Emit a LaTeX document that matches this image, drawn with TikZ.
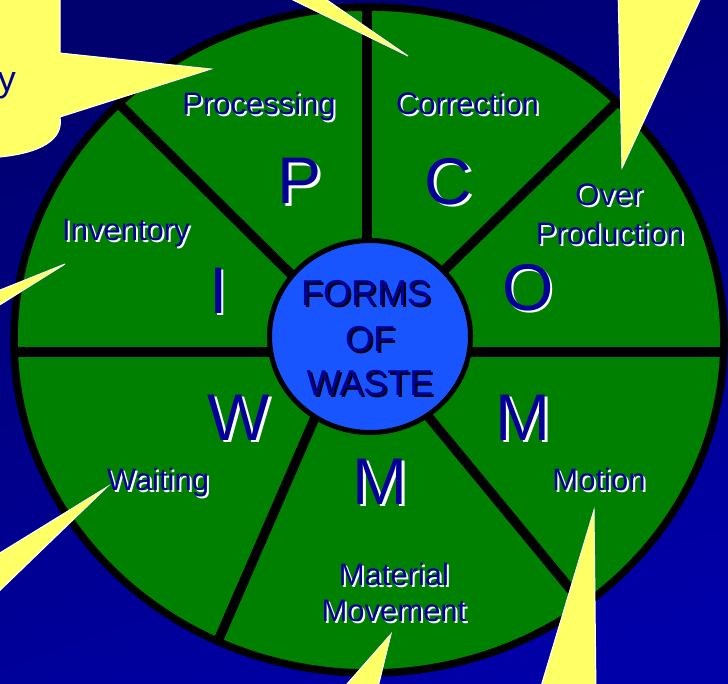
\documentclass[tikz,border=0pt]{standalone}
\usepackage{fontspec}
\setmainfont{Liberation Sans}
\usetikzlibrary{shapes.geometric}
\definecolor{bgdark}{RGB}{0,0,110}
\definecolor{bglight}{RGB}{0,0,168}
\definecolor{wheelgreen}{RGB}{0,128,0}
\definecolor{hubblue}{RGB}{25,85,255}
\definecolor{txtblue}{RGB}{0,0,153}
\definecolor{callout}{RGB}{255,255,102}
\tikzset{
  lbl/.style={font=\fontsize{31}{34}\selectfont, text=txtblue, inner sep=0pt, anchor=base},
  lblshadow/.style={lbl, text=white},
  big/.style={font=\fontsize{66}{70}\selectfont, text=txtblue, inner sep=0pt, anchor=base},
  bigshadow/.style={big, text=white},
  hubtxt/.style={font=\fontsize{36}{40}\selectfont, text=txtblue, inner sep=0pt, anchor=base},
  hubtxtshadow/.style={hubtxt, text=black},
  spoke/.style={line width=9.5pt, draw=black},
  ray/.style={fill=callout, draw=white, line width=1pt, line join=miter},
}
\newcommand{\shadowed}[6]{%
  \node[#1shadow] (#2s) at (#3+#6,#4+#6) {#5};
  \node[#1] (#2) at (#3,#4) {#5};}
\begin{document}
\begin{tikzpicture}[x=1pt,y=-1pt]
\useasboundingbox (0,0) rectangle (728,683);
\begin{scope}
\clip (0,0) rectangle (728,683);
\shade[shading=axis, top color=bgdark, bottom color=bglight, shading angle=20] (-20,-20) rectangle (748,703);
% wheel
\fill[wheelgreen] (369,340) ellipse [x radius=355, y radius=333];
% spokes
\coordinate (ulo) at (118,103);  \coordinate (uli) at (305,288);
\coordinate (uro) at (616,103);  \coordinate (uri) at (435,279);
\coordinate (llo) at (218,641);  \coordinate (lli) at (320,406);
\coordinate (lro) at (586,608);  \coordinate (lri) at (418,404);
\coordinate (to)  at (367,6);    \coordinate (ti)  at (367,300);
\coordinate (lo)  at (14,352);   \coordinate (ro)  at (724,352);
\draw[spoke] (ulo) -- (uli);
\draw[spoke] (uro) -- (uri);
\draw[spoke] (llo) -- (lli);
\draw[spoke] (lro) -- (lri);
\draw[spoke] (to) -- (ti);
\draw[spoke] (lo) -- (ro);
\draw[line width=7.5pt] (369,340) ellipse [x radius=355, y radius=333];
% hub
\node[ellipse, draw=black, line width=5pt, fill=hubblue, minimum width=201pt, minimum height=192pt, inner sep=0pt] (hub) at (370,336.5) {};
% callouts
\draw[ray] (-10,-10) -- (60,-10) -- (60,53) -- (211,69) -- (60,117) .. controls (64,140) and (40,153) .. (0,157) -- (-10,157) -- cycle;
\draw[ray] (272.5,-10) -- (408,56) -- (312.5,-10) -- cycle;
\draw[ray] (618,-10) -- (622,168) -- (704.6,-10) -- cycle;
\draw[ray] (-10,294) -- (65,264) -- (-10,311) -- cycle;
\draw[ray] (-10,559) -- (107,487) -- (-10,600) -- cycle;
\draw[ray] (339,693) -- (391,634) -- (376.6,693) -- cycle;
\draw[ray] (539,693) -- (594,510) -- (596,693) -- cycle;
\node[font=\fontsize{36}{40}\selectfont, text=txtblue, inner sep=0pt, anchor=base east] (ytxt) at (16,91.5) {y};
\end{scope}
% segment labels
\shadowed{lbl}{processing}{259}{114}{Processing}{2}
\shadowed{lbl}{correction}{467.5}{114}{Correction}{2}
\shadowed{lbl}{over}{609}{205}{Over}{2}
\shadowed{lbl}{production}{610}{244.5}{Production}{2}
\shadowed{lbl}{inventory}{126}{240}{Inventory}{2}
\shadowed{lbl}{waiting}{158}{490}{Waiting}{2}
\shadowed{lbl}{motion}{599}{490}{Motion}{2}
\shadowed{lbl}{material}{394}{585}{Material}{2}
\shadowed{lbl}{movement}{394}{621}{Movement}{2}
% big letters
\shadowed{big}{bigP}{300}{203.5}{P}{2.5}
\shadowed{big}{bigC}{448.5}{204}{C}{2.5}
\shadowed{big}{bigO}{528}{310}{O}{2.5}
\shadowed{big}{bigI}{218.5}{313}{I}{2.5}
\shadowed{big}{bigW}{239}{440}{W}{2.5}
\shadowed{big}{bigMr}{523}{440}{M}{2.5}
\shadowed{big}{bigMb}{380}{504}{M}{2.5}
% hub text
\shadowed{hubtxt}{forms}{366}{305}{FORMS}{2}
\shadowed{hubtxt}{of}{370}{351}{OF}{2}
\shadowed{hubtxt}{waste}{370}{395}{WASTE}{2}
\end{tikzpicture}
\end{document}
